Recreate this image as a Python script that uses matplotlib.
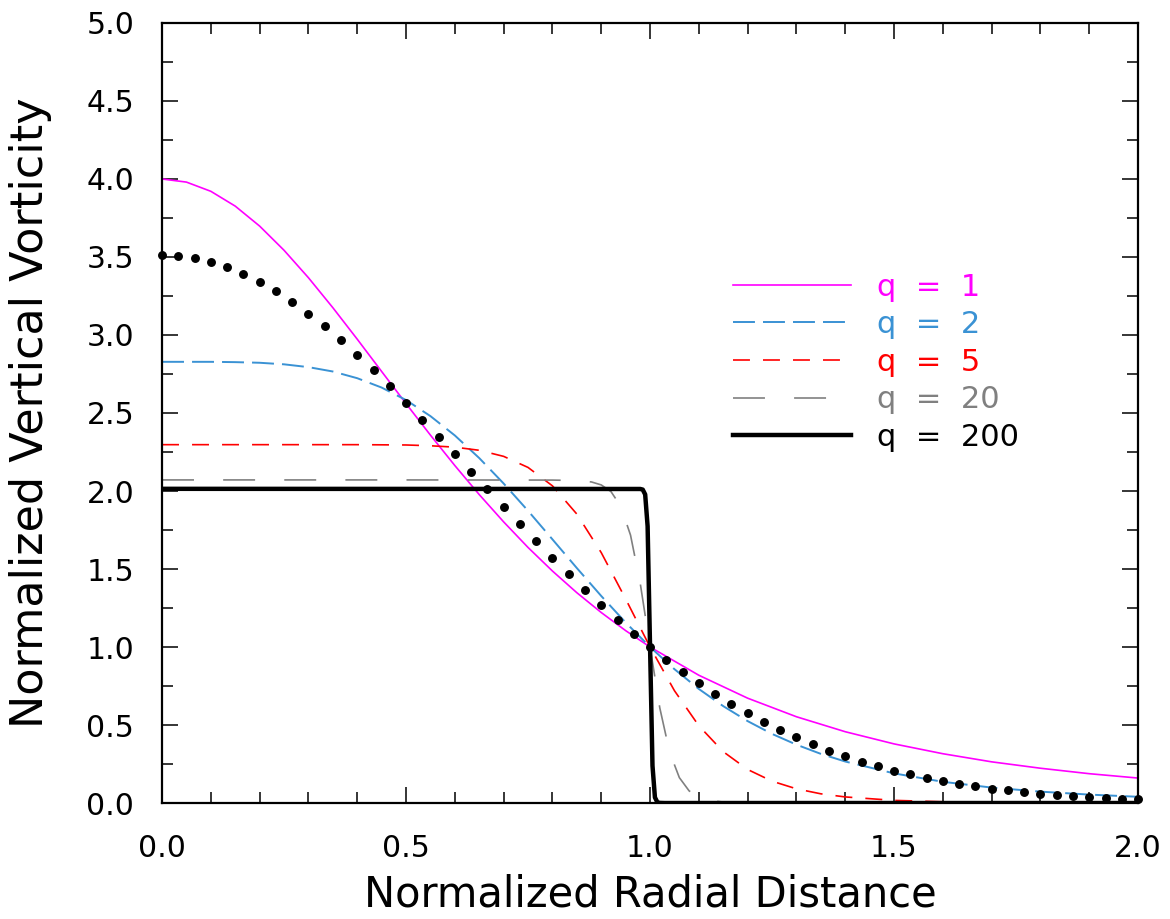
import matplotlib
matplotlib.use("Agg")
import matplotlib.pyplot as plt
from matplotlib.ticker import MultipleLocator

plt.rcParams['font.family'] = ['DejaVu Sans']
plt.rcParams['lines.scale_dashes'] = False

# === DATA ===
r_q1 = [0.0, 0.05, 0.1, 0.15, 0.2, 0.25, 0.3, 0.35, 0.4, 0.45, 0.5, 0.55, 0.6, 0.65,
        0.7, 0.75, 0.8, 0.85, 0.9, 0.95, 1.0, 1.1, 1.2, 1.3, 1.4, 1.5, 1.6, 1.7, 1.8,
        1.9, 2.0]
z_q1 = [4.000, 3.980, 3.921, 3.826, 3.698, 3.543, 3.367, 3.175, 2.973, 2.766, 2.560,
        2.358, 2.163, 1.977, 1.802, 1.638, 1.487, 1.348, 1.221, 1.105, 1.000, 0.819,
        0.672, 0.553, 0.457, 0.379, 0.316, 0.264, 0.223, 0.188, 0.160]

r_q2 = [0.0, 0.05, 0.1, 0.15, 0.2, 0.25, 0.3, 0.35, 0.4, 0.45, 0.5, 0.55, 0.6, 0.65,
        0.7, 0.75, 0.8, 0.85, 0.9, 0.95, 1.0, 1.05, 1.1, 1.15, 1.2, 1.25, 1.3, 1.35,
        1.4, 1.5, 1.6, 1.7, 1.8, 1.9, 2.0]
z_q2 = [2.828, 2.828, 2.828, 2.826, 2.822, 2.812, 2.794, 2.766, 2.723, 2.663, 2.583,
        2.480, 2.356, 2.211, 2.048, 1.873, 1.690, 1.506, 1.327, 1.157, 1.000, 0.858,
        0.731, 0.621, 0.525, 0.443, 0.374, 0.315, 0.266, 0.190, 0.136, 0.099, 0.073,
        0.054, 0.040]

r_q5 = [0.0, 0.2, 0.3, 0.4, 0.5, 0.55, 0.6, 0.65, 0.7, 0.75, 0.8, 0.85, 0.9, 0.95,
        1.0, 1.05, 1.1, 1.15, 1.2, 1.25, 1.3, 1.35, 1.4, 1.5, 1.6, 1.7, 1.8, 2.0]
z_q5 = [2.297, 2.297, 2.297, 2.297, 2.295, 2.290, 2.281, 2.261, 2.222, 2.151, 2.033,
        1.852, 1.605, 1.308, 1.000, 0.720, 0.495, 0.329, 0.215, 0.140, 0.091, 0.059,
        0.039, 0.017, 0.008, 0.004, 0.002, 0.001]

r_q20 = [0.0, 0.5, 0.8, 0.85, 0.88, 0.9, 0.92, 0.94, 0.96, 0.98, 1.0, 1.02, 1.04,
         1.06, 1.08, 1.1, 1.12, 1.15, 1.2, 1.3, 2.0]
z_q20 = [2.071, 2.071, 2.070, 2.067, 2.058, 2.039, 1.996, 1.902, 1.717, 1.406, 1.000,
         0.609, 0.327, 0.163, 0.078, 0.037, 0.018, 0.006, 0.001, 0.0, 0.0]

r_q200 = [0.0, 0.98, 0.985, 0.99, 0.995, 1.0, 1.005, 1.01, 1.015, 1.02, 1.03, 2.0]
z_q200 = [2.014, 2.013, 2.009, 1.978, 1.774, 1.000, 0.239, 0.036, 0.005, 0.001, 0.0, 0.0]

# dotted reference profile, one dot every 1/30
r_dots = [k / 30 for k in range(61)]
z_dots = [3.513, 3.508, 3.493, 3.469, 3.435, 3.392, 3.341, 3.281, 3.213, 3.137, 3.055,
          2.967, 2.873, 2.775, 2.672, 2.566, 2.457, 2.347, 2.235, 2.122, 2.010, 1.898,
          1.787, 1.679, 1.572, 1.468, 1.367, 1.270, 1.176, 1.086, 1.000, 0.918, 0.841,
          0.768, 0.700, 0.635, 0.575, 0.520, 0.468, 0.420, 0.376, 0.336, 0.299, 0.266,
          0.235, 0.208, 0.183, 0.161, 0.141, 0.123, 0.107, 0.093, 0.081, 0.070, 0.060,
          0.051, 0.044, 0.038, 0.032, 0.027, 0.023]

# === PLOT ===
fig = plt.figure(figsize=(11.7, 9.19), dpi=100)
ax = fig.add_axes([0.1385, 0.1262, 0.8342, 0.8488])

l1, = ax.plot(r_q1, z_q1, color='#ff00ff', lw=1.2, label='q  =  1')
l2, = ax.plot(r_q2, z_q2, color='#3a92d4', lw=1.4, dashes=(15.8, 5.8), label='q  =  2')
l5, = ax.plot(r_q5, z_q5, color='#ff0000', lw=1.2, dashes=(12.2, 9.4), label='q  =  5')
l20, = ax.plot(r_q20, z_q20, color='#808080', lw=1.2, dashes=(23, 21), label='q  =  20')
l200, = ax.plot(r_q200, z_q200, color='black', lw=3.2, label='q  =  200',
                solid_joinstyle='round')
ax.plot(r_dots, z_dots, ls='none', marker='o', ms=5.4, color='black', clip_on=False)

ax.set_xlim(0, 2)
ax.set_ylim(0, 5)
ax.xaxis.set_major_locator(MultipleLocator(0.5))
ax.xaxis.set_minor_locator(MultipleLocator(0.1))
ax.yaxis.set_major_locator(MultipleLocator(0.5))
ax.yaxis.set_minor_locator(MultipleLocator(0.25))
ax.xaxis.set_major_formatter(lambda v, p: f"{v:.1f}")
ax.yaxis.set_major_formatter(lambda v, p: f"{v:.1f}")

ax.tick_params(which='both', direction='in', top=True, right=True, width=1.1,
               labelsize=21.5)
ax.tick_params(which='major', length=11.5)
ax.tick_params(which='minor', length=8)
ax.tick_params(axis='x', which='major', pad=22)
ax.tick_params(axis='y', which='major', pad=20)
for s in ax.spines.values():
    s.set_linewidth(1.6)

ax.set_xlabel("Normalized Radial Distance", fontsize=30)
ax.set_ylabel("Normalized Vertical Vorticity", fontsize=32)
ax.xaxis.set_label_coords(0.5, -0.09)
ax.yaxis.set_label_coords(-0.113, 0.5)

leg = ax.legend(handles=[l1, l2, l5, l20, l200], loc='upper left',
                bbox_to_anchor=(0.585, 0.680), frameon=False, fontsize=22,
                handlelength=3.86, handletextpad=0.85, labelspacing=0.28,
                borderpad=0, borderaxespad=0, labelcolor='linecolor')

fig.savefig("out.png", dpi=100)
